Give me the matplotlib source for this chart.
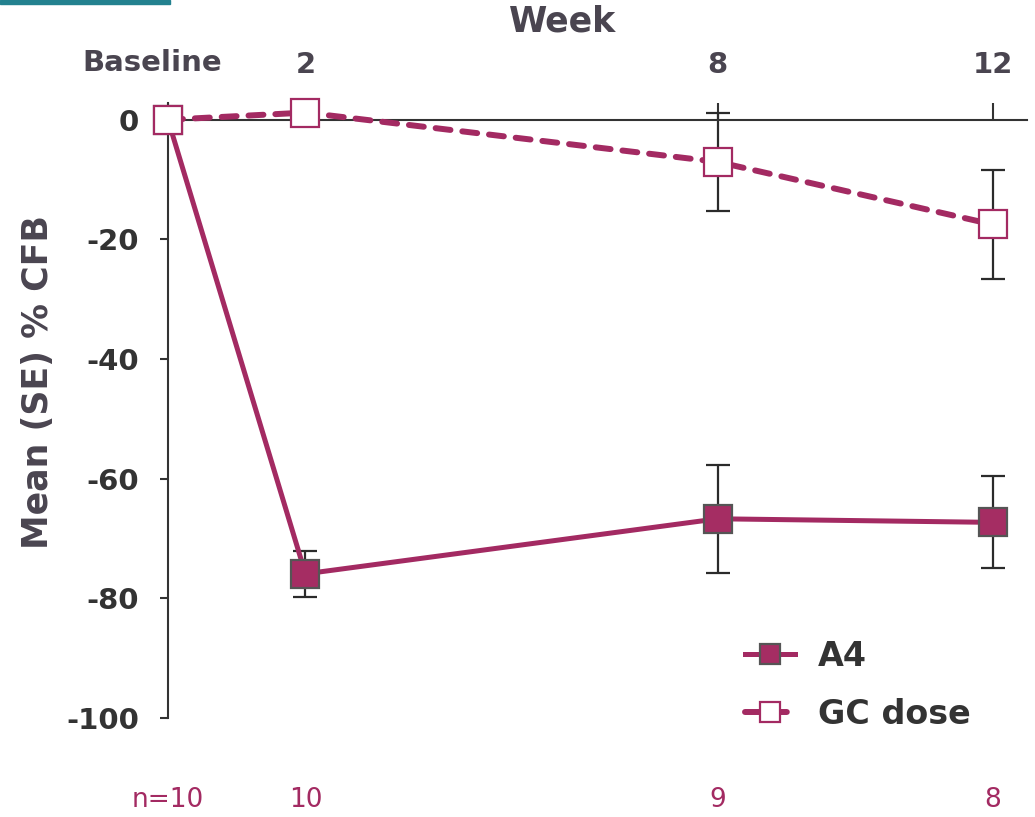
import matplotlib
matplotlib.use("Agg")
import matplotlib.pyplot as plt
from matplotlib.patches import Rectangle
from matplotlib.transforms import blended_transform_factory

# weeks on study and group sizes
weeks = [0, 2, 8, 12]
week_labels = ["Baseline", "2", "8", "12"]
n_labels = ["n=10", "10", "9", "8"]

# mean % change from baseline and standard error
a4_mean = [0, -75.9, -66.7, -67.3]
a4_se = [0, 3.85, 9.0, 7.7]
gc_mean = [0, 1.2, -7.05, -17.5]
gc_se = [0, 0, 8.2, 9.1]

magenta = "#a32a62"
dark = "#333333"
label_grey = "#4a4550"

plt.rcParams["font.family"] = ["DejaVu Sans"]

fig = plt.figure(figsize=(10.35, 8.17), dpi=100)
ax = fig.add_axes([168 / 1035, (817 - 718) / 817, (1027 - 168) / 1035, (718 - 103) / 817])

# error bars sit under the markers
for mean, se in [(a4_mean, a4_se), (gc_mean, gc_se)]:
    eb = ax.errorbar(weeks, mean, yerr=se, fmt="none", ecolor="#2b2b2b",
                     elinewidth=1.6, capsize=8.5, capthick=1.6, zorder=2)
    for art in eb.lines[1] + eb.lines[2]:
        art.set_clip_on(False)

ax.plot(weeks, a4_mean, color=magenta, lw=3.6, marker="s", ms=20,
        markerfacecolor="#a52d63", markeredgecolor="#555555", mew=1.6,
        label="A4", zorder=3, clip_on=False)
ax.plot(weeks, gc_mean, color=magenta, lw=4.3, ls=(0, (2.5, 2.0)),
        dash_capstyle="round", marker="s", ms=20, markerfacecolor="white",
        markeredgecolor=magenta, mew=1.6, label="GC dose", zorder=4,
        clip_on=False)

ax.set_xlim(0, 12.5)
ax.set_ylim(-100, 2.8)

# x axis runs along y = 0 with labels on top
for s in ["right", "bottom"]:
    ax.spines[s].set_visible(False)
ax.spines["top"].set_position(("data", 0))
ax.spines["top"].set_color(dark)
ax.spines["top"].set_linewidth(1.5)
ax.spines["left"].set_color(dark)
ax.spines["left"].set_linewidth(1.5)

ax.set_xticks(weeks)
ax.set_xticklabels([""] + week_labels[1:])
ax.tick_params(axis="x", top=True, labeltop=True, bottom=False, labelbottom=False,
               direction="out", length=12, width=1.5, color=dark, pad=17,
               labelsize=21, labelcolor=label_grey)
for t in ax.get_xticklabels():
    t.set_fontweight("bold")

# baseline label sits a little left of its tick
fig.text(152 / 1035, 1 - 63 / 817, week_labels[0], ha="center", va="center",
         fontsize=21, fontweight="bold", color=label_grey)

ax.set_yticks([0, -20, -40, -60, -80, -100])
ax.set_yticklabels(["0", "-20", "-40", "-60", "-80", "-100"])
ax.tick_params(axis="y", direction="out", length=6, width=1.5, color=dark,
               pad=15, labelsize=21, labelcolor=dark)
for t in ax.get_yticklabels():
    t.set_fontweight("bold")

fig.text(563 / 1035, 1 - 22 / 817, "Week", ha="center", va="center",
         fontsize=25, fontweight="bold", color=label_grey)
fig.text(38 / 1035, 1 - 382 / 817, "Mean (SE) % CFB", ha="center", va="center",
         rotation=90, fontsize=25, fontweight="bold", color=label_grey)

# group sizes under each visit
trans = blended_transform_factory(ax.transData, fig.transFigure)
for w, n in zip(weeks, n_labels):
    ax.text(w, 1 - 800 / 817, n, transform=trans, ha="center", va="center",
            fontsize=19, color=magenta, clip_on=False)

leg = ax.legend(loc="upper left", bbox_to_anchor=(745 / 1035, 1 - 640 / 817),
                bbox_transform=fig.transFigure, frameon=False, fontsize=24,
                handlelength=1.5, handletextpad=0.7, labelspacing=0.75,
                borderpad=0, borderaxespad=0, markerscale=0.72)
for t in leg.get_texts():
    t.set_fontweight("bold")
    t.set_color(dark)

fig.patches.append(Rectangle((0, 1 - 4 / 817), 170 / 1035, 4 / 817,
                             transform=fig.transFigure, color="#23818f"))

fig.savefig("out.png", dpi=100)
